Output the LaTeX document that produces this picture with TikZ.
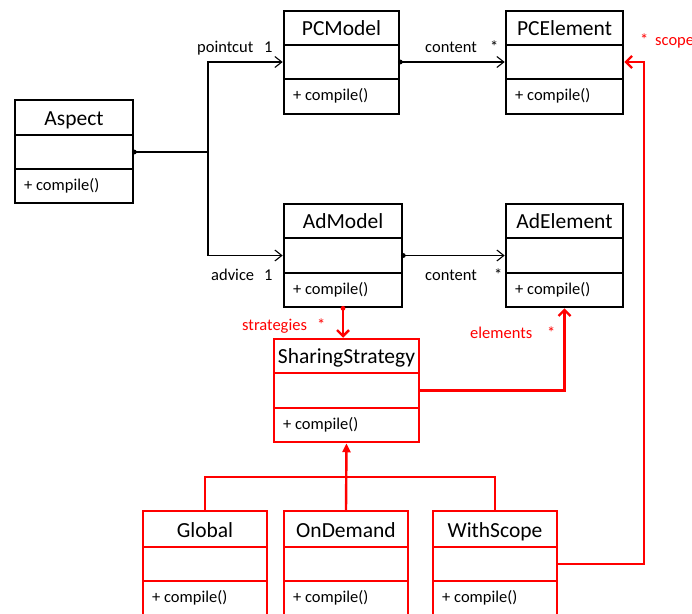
\documentclass[tikz,border=0pt]{standalone}
\usepackage{fontspec}
\setmainfont{Carlito}
\usetikzlibrary{arrows.meta,fit}

\definecolor{umlred}{RGB}{255,0,0}

\tikzset{
  x=1pt, y=-1pt,
  blackbox/.style={draw=black, line width=2.6pt},
  redbox/.style={draw=umlred, line width=2.5pt},
  classtitle/.style={anchor=base, inner sep=0pt, font=\fontsize{21.5}{24}\selectfont},
  classop/.style={anchor=base west, inner sep=0pt, font=\fontsize{16.5}{19}\selectfont},
  lbl/.style={anchor=base west, inner sep=0pt, font=\fontsize{16.5}{19}\selectfont},
  redlbl/.style={lbl, text=umlred},
  assoc/.style={draw=black, line width=1.1pt,
    -{Straight Barb[length=7pt,width=11pt,line width=1.1pt]}},
  redassoc/.style={draw=umlred, line width=2.4pt,
    -{Straight Barb[length=6pt,width=12pt,line width=2.4pt]}},
  redline/.style={draw=umlred, line width=2.4pt},
  generalize/.style={redline, -{Triangle[length=9pt,width=8pt]}},
  enddot/.style={radius=2.4pt},
}

% #1 name, #2 frame style, #3 left, #4 top, #5 right, #6 first divider,
% #7 second divider, #8 bottom, #9 class name
\newcommand\umlclass[9]{%
  \node[#2, fit={(#3,#4) (#5,#8)}, inner sep=0pt] (#1) {};
  \draw[#2] (#3,#6) -- (#5,#6) (#3,#7) -- (#5,#7);
  \coordinate (#1-a) at ({(#3+#5)/2},{(#6+#7)/2});
  \node[classtitle] (#1-title) at ({(#3+#5)/2},{#6-10}) {#9};
  \node[classop] (#1-op) at ({#3+9},{#7+21}) {+ compile()};
}

\begin{document}
\begin{tikzpicture}
\useasboundingbox (0,0) rectangle (692,613);

% classes
\umlclass{asp}{blackbox}{15}{100}{133}{135}{169}{203}{Aspect}
\umlclass{pcm}{blackbox}{284}{11}{399}{45}{79}{114}{PCModel}
\umlclass{pce}{blackbox}{506}{11}{623}{45}{79}{114}{PCElement}
\umlclass{adm}{blackbox}{284}{204}{402}{238}{273}{307}{AdModel}
\umlclass{ade}{blackbox}{506}{204}{623}{238}{273}{307}{AdElement}
\umlclass{ss}{redbox}{274}{339}{419}{373}{408}{442}{SharingStrategy}
\umlclass{glob}{redbox}{143}{511}{267}{547}{581}{616}{Global}
\umlclass{ond}{redbox}{284}{511}{408}{547}{581}{616}{OnDemand}
\umlclass{ws}{redbox}{433}{511}{557}{547}{581}{616}{WithScope}

% bend points
\coordinate (split) at (208,152);
\coordinate (scopebend) at (644,62);
\coordinate (genbar) at (346,477);

% black associations
\draw[assoc] (asp.east |- asp-a) -- (split) |- (pcm.west |- pcm-a);
\draw[assoc] (split) |- (adm.west |- adm-a);
\draw[assoc] (pcm.east |- pcm-a) -- (pce.west |- pce-a);
\draw[assoc] (adm.east |- adm-a) -- (ade.west |- ade-a);
\fill[black] (asp.east |- asp-a) circle[enddot];
\fill[black] (pcm.east |- pcm-a) circle[enddot];
\fill[black] (adm.east |- adm-a) circle[enddot];

% red associations
\draw[redassoc] (adm.south) -- (adm.south |- ss.north);
\fill[umlred] (adm.south) circle[enddot];
\draw[redassoc] (ss.east |- ss-a) -| (ade.south);
\draw[redassoc] (ws.east |- ws-a) -| (scopebend) -- (pce.east |- pce-a);

% generalization
\draw[redline] (glob.north) |- (genbar) -| (ws.north);
\draw[generalize] (ond.north) -- (ss.south);

% role names and multiplicities
\node[lbl] (l-pc) at (197,52) {pointcut};
\node[lbl] (m-pc) at (264,52) {1};
\node[lbl] (l-ad) at (211,280) {advice};
\node[lbl] (m-ad) at (264,280) {1};
\node[lbl] (l-c1) at (425,52) {content};
\node[lbl] (m-c1) at (490,52) {*};
\node[lbl] (l-c2) at (425,280) {content};
\node[lbl] (m-c2) at (494,280) {*};
\node[redlbl] (l-st) at (242,330) {strategies};
\node[redlbl] (m-st) at (317,330) {*};
\node[redlbl] (l-el) at (470,338) {elements};
\node[redlbl] (m-el) at (547,338) {*};
\node[redlbl] (m-sc) at (640,45) {*};
\node[redlbl] (l-sc) at (655,45) {scope};
\end{tikzpicture}
\end{document}
